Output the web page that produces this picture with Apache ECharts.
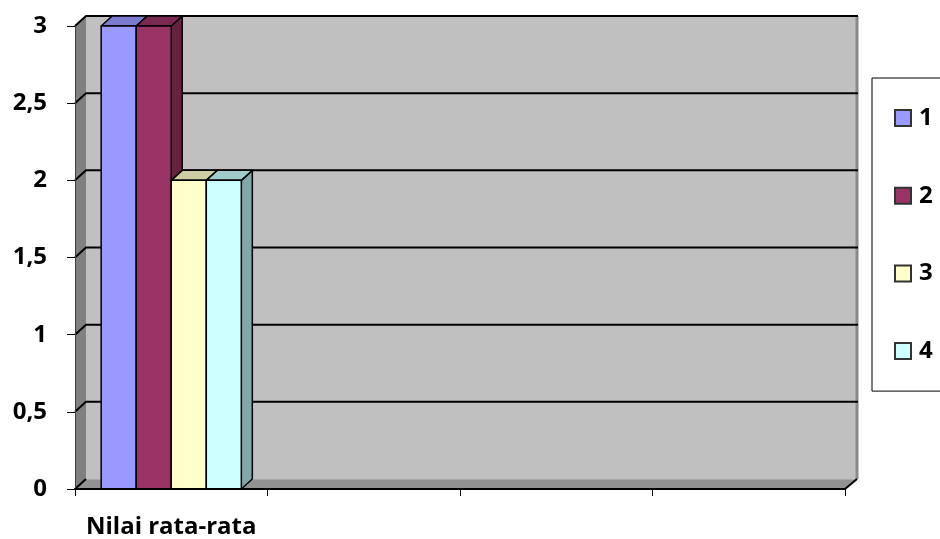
<!DOCTYPE html>
<html><head><meta charset="utf-8">
<script src="https://cdn.jsdelivr.net/npm/echarts@6/dist/echarts.min.js"></script>
<style>html,body{margin:0;padding:0;background:#fff}#c{width:940px;height:539px}</style>
</head><body><div id="c"></div>
<script>
const categories = ["Nilai rata-rata", "", "", ""];
const seriesNames = ["1", "2", "3", "4"];
const values1 = [3];
const values2 = [3];
const values3 = [2];
const values4 = [2];
const yMin = 0, yMax = 3, yStep = 0.5;

const FONT = '"Open Sans"';
const FS = 24;
const DX = 11, DY = -10;
const BAR_FRAC = 0.182;
const palette = [
  {front:'#9999ff', top:'#7b7bd0', side:'#6b6bb5'},
  {front:'#993366', top:'#7a2952', side:'#66223f'},
  {front:'#ffffcc', top:'#cdcda3', side:'#b3b38f'},
  {front:'#ccffff', top:'#a0cccc', side:'#80a8a8'}
];
const allValues = [values1, values2, values3, values4];

function wallsRender(params, api) {
  const cs = params.coordSys;
  const x0 = cs.x, x1 = cs.x + cs.width, yT = cs.y, yB = cs.y + cs.height;
  const ch = [];
  ch.push({type:'rect', shape:{x:x0+DX, y:yT+DY, width:x1-x0, height:yB-yT}, style:{fill:'#c0c0c0'}});
  ch.push({type:'polygon', shape:{points:[[x0,yB],[x0,yT],[x0+DX,yT+DY],[x0+DX,yB+DY]]}, style:{fill:'#808080'}});
  ch.push({type:'line', shape:{x1:x1+DX+1, y1:yT+DY, x2:x1+DX+1, y2:yB+DY}, style:{stroke:'#8a8a8a', lineWidth:3}});
  for (let v = yMin + yStep; v <= yMax + 1e-9; v += yStep) {
    const y = api.coord([0, v])[1];
    ch.push({type:'polyline', shape:{points:[[x0,y],[x0+DX,y+DY],[x1+DX+2,y+DY]]}, style:{stroke:'#000', lineWidth:2, fill:null}});
  }
  ch.push({type:'polygon', shape:{points:[[x0,yB],[x1,yB],[x1+DX,yB+DY],[x0+DX,yB+DY]]}, style:{fill:'#929292'}});
  ch.push({type:'line', shape:{x1:x0+DX, y1:yB+DY+0.5, x2:x1+DX, y2:yB+DY+0.5}, style:{stroke:'#a8a8a8', lineWidth:1}});
  ch.push({type:'line', shape:{x1:x0, y1:yB, x2:x0+DX, y2:yB+DY}, style:{stroke:'#000', lineWidth:2}});
  ch.push({type:'line', shape:{x1:x1, y1:yB, x2:x1+DX+1, y2:yB+DY}, style:{stroke:'#000', lineWidth:2}});
  return {type:'group', children:ch};
}

function makeBar(slot, col) {
  return function(params, api) {
    const cat = api.value(0), v = api.value(1);
    const base = api.coord([cat, 0]);
    const tp = api.coord([cat, v]);
    const band = api.size([1, 0])[0];
    const w = band * BAR_FRAC;
    const left = base[0] - 2 * w + slot * w, right = left + w;
    const yb = base[1], yt = tp[1];
    const st = {stroke:'#000', lineWidth:1.5, lineJoin:'round'};
    return {type:'group', children:[
      {type:'polygon', shape:{points:[[right,yt],[right+DX,yt+DY],[right+DX,yb+DY],[right,yb]]}, style:Object.assign({fill:col.side}, st)},
      {type:'polygon', shape:{points:[[left,yt],[left+DX,yt+DY],[right+DX,yt+DY],[right,yt]]}, style:Object.assign({fill:col.top}, st)},
      {type:'rect', shape:{x:left, y:yt, width:w, height:yb-yt}, style:Object.assign({fill:col.front}, st)}
    ]};
  };
}

const series = [{
  type:'custom', name:'walls', silent:true, z:1,
  data:[[0, 0]], encode:{x:0, y:1}, renderItem:wallsRender
}];
seriesNames.forEach((n, i) => {
  series.push({
    type:'custom', name:n, z:3,
    itemStyle:{color:palette[i].front, borderColor:'#333', borderWidth:1},
    data: allValues[i].map((v, k) => [k, v]),
    encode:{x:0, y:1},
    renderItem: makeBar(i, palette[i])
  });
});

const chart = echarts.init(document.getElementById('c'), null, {renderer:'canvas'});
chart.setOption({
  animation:false,
  backgroundColor:'#fff',
  textStyle:{fontFamily:FONT},
  grid:{left:75, top:26, width:770, height:464, containLabel:false},
  legend:{
    data:seriesNames, orient:'vertical', left:872, top:78,
    padding:[28, 40, 28, 22], itemGap:53.7, itemWidth:16, itemHeight:16, icon:'rect',
    backgroundColor:'#fff', borderColor:'#000', borderWidth:1, borderRadius:0,
    textStyle:{fontFamily:FONT, fontWeight:'bold', fontSize:FS, color:'#000', lineHeight:24, padding:[0,0,0,3]}
  },
  xAxis:{
    type:'category', data:categories, z:10,
    axisLine:{show:true, lineStyle:{color:'#000', width:2}},
    axisTick:{show:true, alignWithLabel:false, length:7, lineStyle:{color:'#000', width:1}},
    axisLabel:{interval:0, margin:26, color:'#000', fontFamily:FONT, fontWeight:'bold', fontSize:FS},
    splitLine:{show:false}
  },
  yAxis:{
    type:'value', min:yMin, max:yMax, interval:yStep, z:10,
    axisLine:{show:true, lineStyle:{color:'#404040', width:1}},
    axisTick:{show:true, length:8, lineStyle:{color:'#000', width:1}},
    axisLabel:{margin:28, color:'#000', fontFamily:FONT, fontWeight:'bold', fontSize:FS,
      padding:[5,0,0,0],
      formatter: v => String(v).replace('.', ',')},
    splitLine:{show:false}
  },
  series: series
});
</script></body></html>
